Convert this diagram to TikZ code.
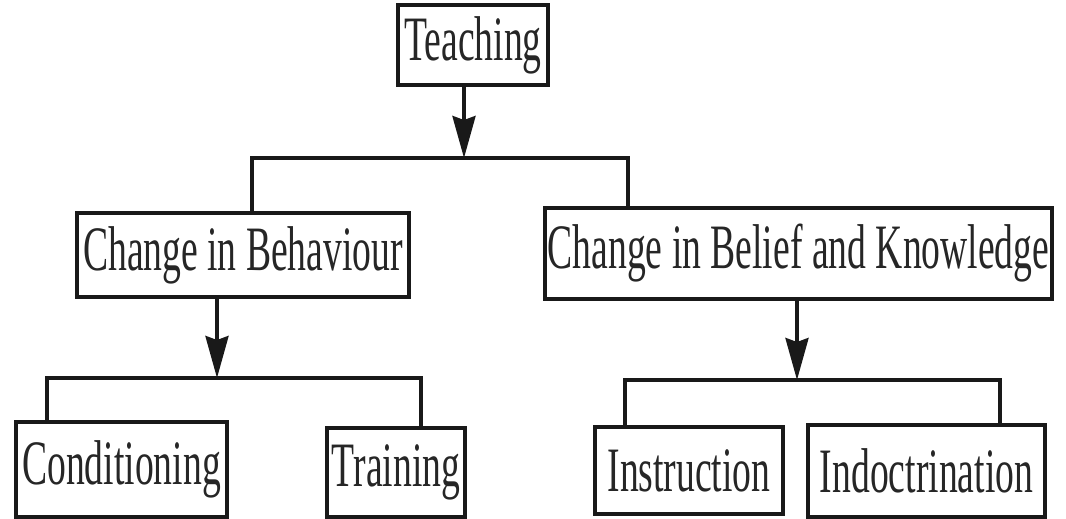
\documentclass[tikz,border=0pt]{standalone}
\usepackage{fontspec}
\setmainfont{Liberation Serif}[FakeStretch=0.595]
\usetikzlibrary{arrows.meta, positioning, calc}

\tikzset{
    box/.style={draw=black!90, line width=2.6pt, inner sep=0pt, text=black!85, font=\fontsize{36}{42}\selectfont},
    link/.style={draw=black!90, line width=2pt},
    arr/.style={draw=black!90, fill=black!90, line width=2pt, -{Stealth[length=0.84cm, width=0.46cm, inset=0.08cm]}}
}

\begin{document}
\begin{tikzpicture}[x=0.02cm, y=-0.02cm]
    \useasboundingbox (0,0) rectangle (1066,519);
    % boxes: name/x/y/width/height/text
    \foreach \n/\x/\y/\w/\h/\t in {teach/473/45/150/80/Teaching,
                                   beh/243/255/332/84/{Change in Behaviour},
                                   bel/798.5/253.5/507/91/{Change in Belief and Knowledge},
                                   cond/121.5/469.5/211/95/Conditioning,
                                   train/396/472.5/138/89/Training,
                                   instr/689/470.5/188/87/Instruction,
                                   indoc/926.5/471/237/92/Indoctrination
                                   } {
        \node[box, minimum width={\w*0.02cm}, minimum height={\h*0.02cm}] (\n) at (\x,\y) {\t};
    }
    % junction bars
    \coordinate (topL) at (252,158);
    \coordinate (topM) at (464,158);
    \coordinate (topR) at (628,158);
    \coordinate (behL) at (47,378);
    \coordinate (behM) at (217,378);
    \coordinate (behR) at (421,378);
    \coordinate (belL) at (625,380);
    \coordinate (belM) at (797,380);
    \coordinate (belR) at (1000,380);
    \draw[arr] (topM |- teach.south) -- (topM);
    \draw[link] (topL |- beh.north) -- (topL) -- (topR) -- (topR |- bel.north);
    \draw[arr] (behM |- beh.south) -- (behM);
    \draw[link] (behL |- cond.north) -- (behL) -- (behR) -- (behR |- train.north);
    \draw[arr] (belM |- bel.south) -- (belM);
    \draw[link] (belL |- instr.north) -- (belL) -- (belR) -- (belR |- indoc.north);
\end{tikzpicture}
\end{document}
